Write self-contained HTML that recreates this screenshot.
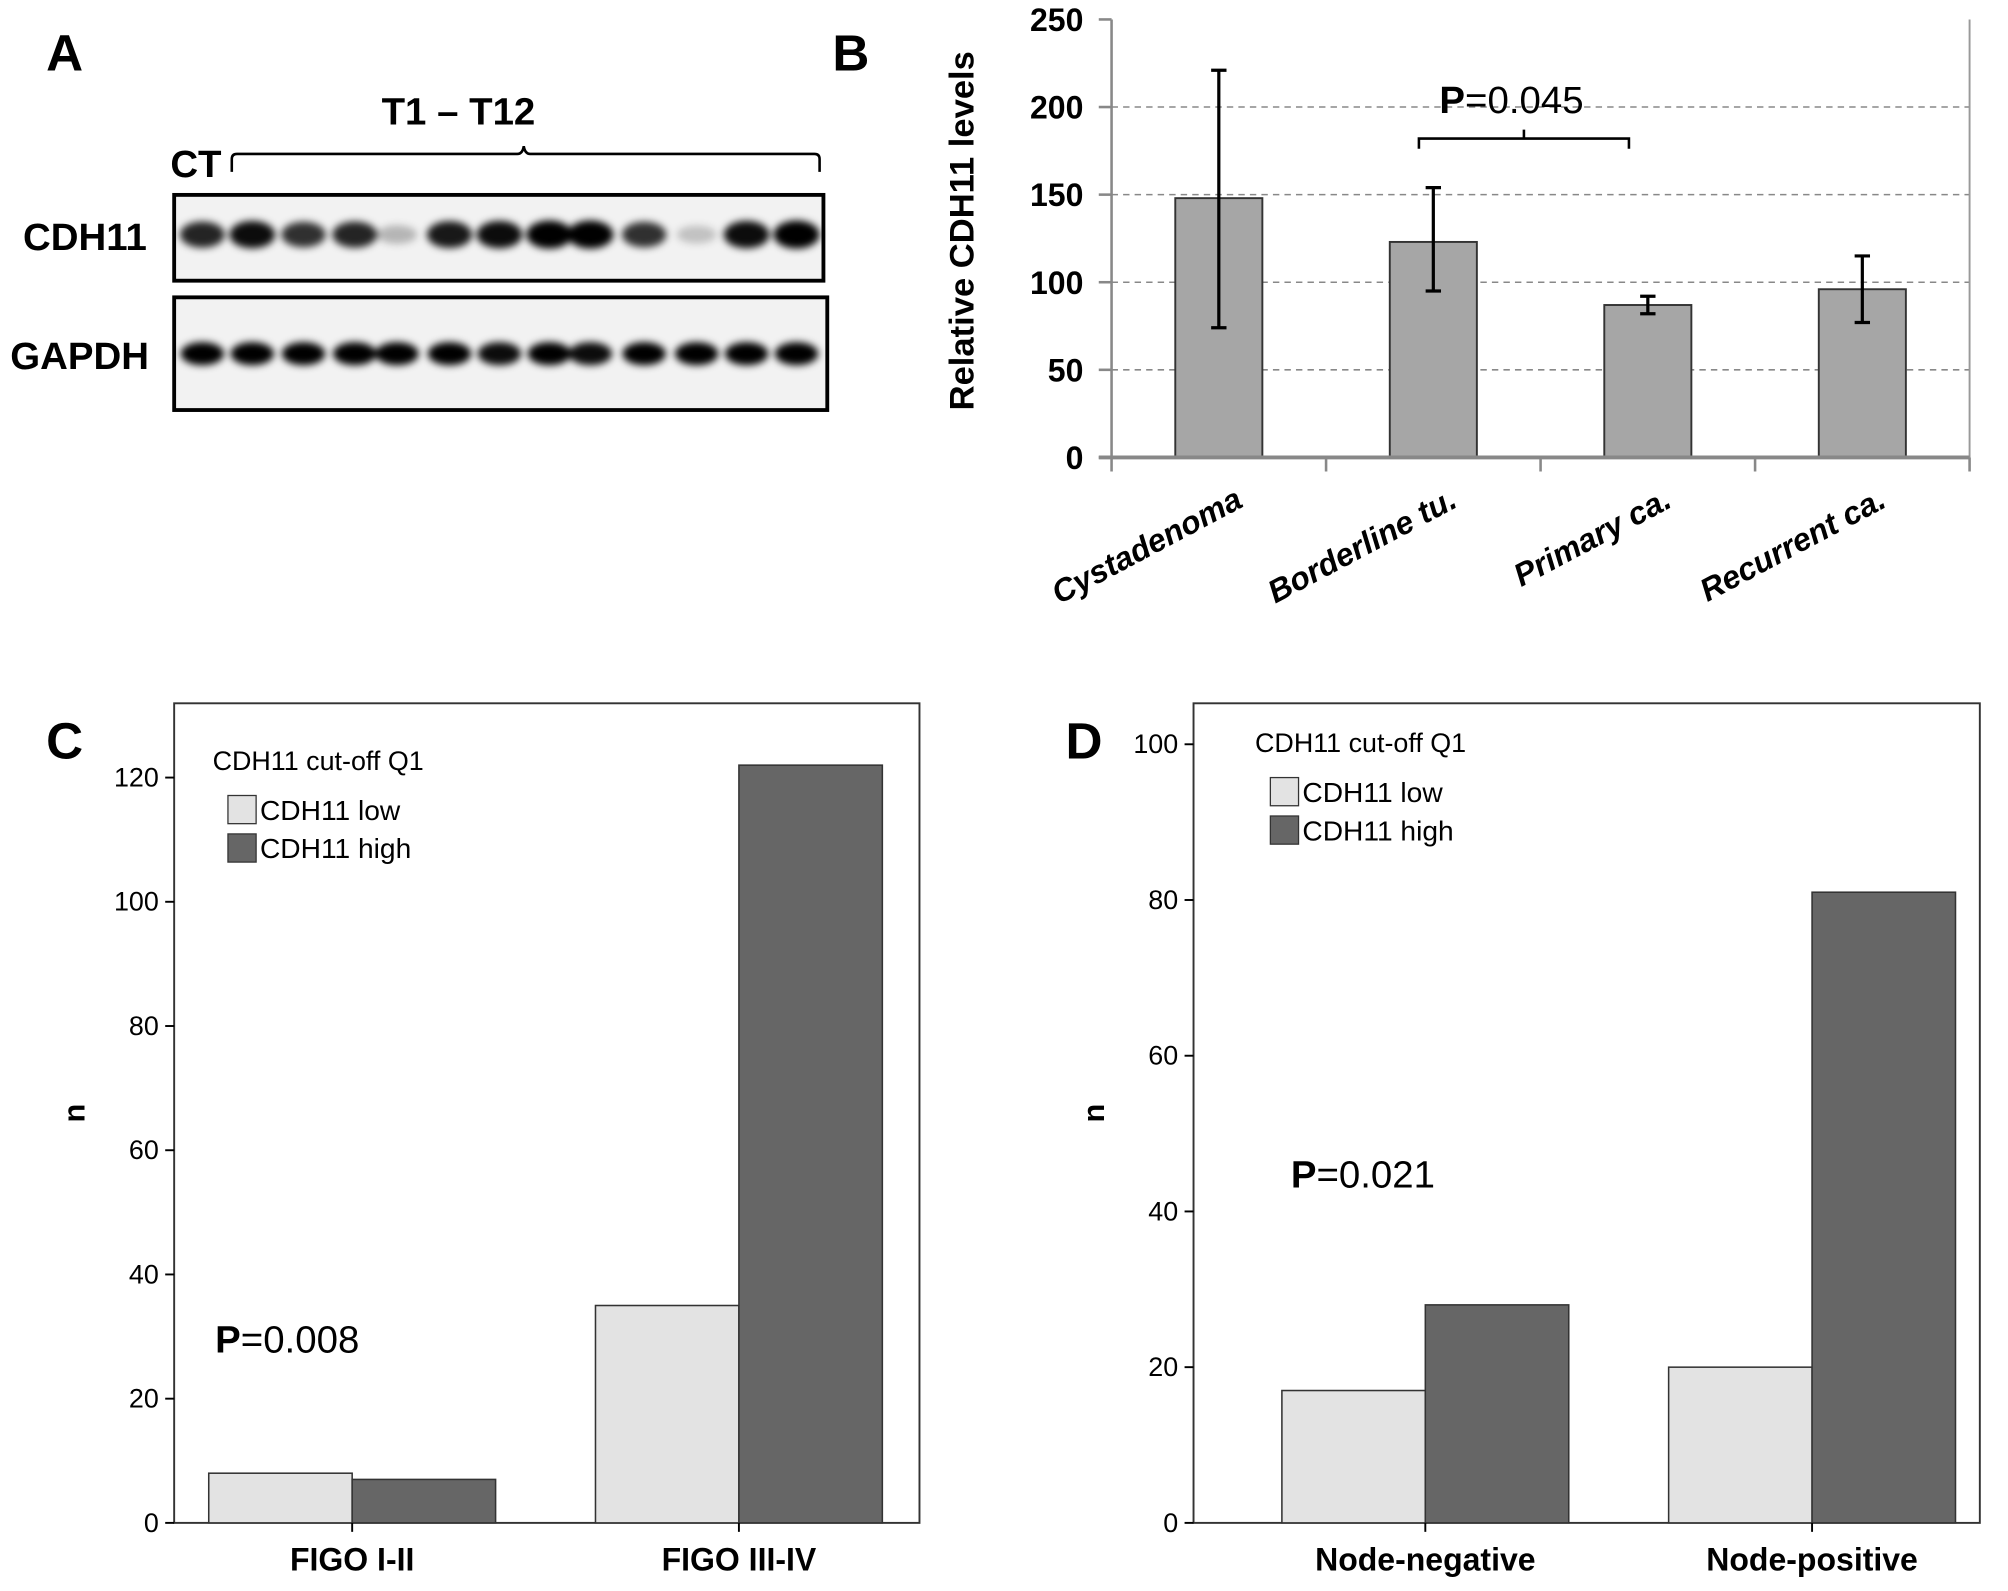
<!DOCTYPE html>
<html><head><meta charset="utf-8"><style>
html,body{margin:0;padding:0;background:#fff}
svg{display:block}
text{font-family:"Liberation Sans",Arial,sans-serif}
</style></head><body>
<svg id="fig" width="2008" height="1591" viewBox="0 0 1568 1242" xmlns="http://www.w3.org/2000/svg">
<defs>
<filter id="blur" x="-50%" y="-50%" width="200%" height="200%"><feGaussianBlur stdDeviation="3"/></filter>
</defs>
<g id="panelA">
<text x="36" y="55" font-size="40" font-weight="bold">A</text>
<text x="358" y="97" font-size="30" font-weight="bold" text-anchor="middle">T1 – T12</text>
<text x="133" y="138" font-size="30" font-weight="bold">CT</text>
<path d="M181,134 v-10 q0,-4 4,-4 H404 q4,0 5,-6 q1,6 5,6 H636 q4,0 4,4 v10" fill="none" stroke="#000" stroke-width="2"/>
<text x="18" y="195" font-size="30" font-weight="bold">CDH11</text>
<text x="8" y="288" font-size="30" font-weight="bold">GAPDH</text>
<rect x="136" y="152" width="507" height="67" fill="#f2f2f2" stroke="#000" stroke-width="3"/>
<rect x="136" y="232" width="510" height="88" fill="#f2f2f2" stroke="#000" stroke-width="3"/>
<g id="bands" filter="url(#blur)"></g>
</g>
<g id="panelB"></g>
<g id="panelC"></g>
<g id="panelD"></g>
</svg>
<script>
const laneX = [158,197,237,277,310,351,390,429,461,503,544,583,622];
const cdhIntensity = [0.85,0.95,0.8,0.85,0.25,0.9,0.95,1,1,0.8,0.2,0.95,1];
const gapIntensity = [1,1,1,1,1,1,0.95,1,0.95,1,1,1,1];
const bCats = ["Cystadenoma","Borderline tu.","Primary ca.","Recurrent ca."];
const bVals = [148,123,87,96];
const bHi = [221,154,92,115];
const bLo = [74,95,82,77];
const bTicks = [0,50,100,150,200,250];
const cCats = ["FIGO I-II","FIGO III-IV"];
const cLow = [8,35];
const cHigh = [7,122];
const cTicks = [0,20,40,60,80,100,120];
const dCats = ["Node-negative","Node-positive"];
const dLow = [17,20];
const dHigh = [28,81];
const dTicks = [0,20,40,60,80,100];

const NS="http://www.w3.org/2000/svg";
function mk(parent,tag,attrs,text){const e=document.createElementNS(NS,tag);for(const k in attrs)e.setAttribute(k,attrs[k]);if(text!==undefined)e.textContent=text;parent.appendChild(e);return e;}

const bands=document.getElementById('bands');
laneX.forEach((x,i)=>{
  const a=cdhIntensity[i];
  const e1=mk(bands,'ellipse',{cx:x,cy:183,rx:15+a*3,ry:6+a*5,fill:'#000','fill-opacity':a});
  
  
  const e2=mk(bands,'ellipse',{cx:x,cy:276,rx:17,ry:9,fill:'#000','fill-opacity':gapIntensity[i]});
  
  
});

(function(){
  const g=document.getElementById('panelB');
  const x0=868,x1=1538,y0=357,yTop=15,max=250;
  const ys=v=>y0-(v/max)*(y0-yTop);
  const band=(x1-x0)/bCats.length;
  const xc=i=>x0+band*(i+0.5);
  let t=mk(g,'text',{x:650,y:55,'font-size':40,'font-weight':'bold'},'B');
  
  
  bTicks.forEach(v=>{
    if(v>0&&v<250){const l=mk(g,'line',{x1:x0,x2:x1,y1:ys(v),y2:ys(v),stroke:'#888','stroke-dasharray':'5,4','stroke-width':1.2});
    
    }
    const tk=mk(g,'line',{x1:x0-10,x2:x0,y1:ys(v),y2:ys(v),stroke:'#888','stroke-width':2});
    
    
    const lb=mk(g,'text',{x:x0-22,y:ys(v)+9,'font-size':25,'font-weight':'bold','text-anchor':'end'},String(v));
    
    
  });
  const ax=mk(g,'line',{x1:x0,x2:x0,y1:yTop,y2:y0,stroke:'#888','stroke-width':2});
  
  
  const rx=mk(g,'line',{x1:x1,x2:x1,y1:yTop,y2:y0,stroke:'#999','stroke-width':1.5});
  
  
  const yt=mk(g,'text',{x:0,y:0,'font-size':27,'font-weight':'bold','text-anchor':'middle',transform:'translate(760,180) rotate(-90)'},'Relative CDH11 levels');
  
  
  bCats.forEach((c,i)=>{
    const bw=68;
    const r=mk(g,'rect',{x:xc(i)-bw/2,y:ys(bVals[i]),width:bw,height:y0-ys(bVals[i]),fill:'#a6a6a6',stroke:'#333','stroke-width':1.5});
    
    
    const eb=mk(g,'path',{d:`M${xc(i)},${ys(bHi[i])}V${ys(bLo[i])}M${xc(i)-6},${ys(bHi[i])}h12M${xc(i)-6},${ys(bLo[i])}h12`,stroke:'#000','stroke-width':2.5,fill:'none'});
    
    
    const lb=mk(g,'text',{x:0,y:0,'font-size':25,'font-weight':'bold','font-style':'italic','text-anchor':'end',transform:`translate(${xc(i)+20},${395}) rotate(-28)`},c);
    
    
  });
  for(let i=0;i<=bCats.length;i++){
    const tk=mk(g,'line',{x1:x0+band*i,x2:x0+band*i,y1:y0,y2:y0+11,stroke:'#888','stroke-width':2});
    
    
  }
  const xa=mk(g,'line',{x1:x0-10,x2:x1,y1:y0,y2:y0,stroke:'#888','stroke-width':3});
  
  
  const br=mk(g,'path',{d:'M1108,116 v-8 H1272 v8 M1190,108 v-7',stroke:'#000','stroke-width':2,fill:'none'});
  
  
  const p=mk(g,'text',{x:1124,y:88,'font-size':30},'');
  
  
  mk(p,'tspan',{'font-weight':'bold'},'P');mk(p,'tspan',{},'=0.045');
})();

function groupChart(id,letter,lx,ly,x0,x1,yTop,max,cats,low,high,ticks,barL,firstC,step,pos,pText,pPos,legY){
  const g=document.getElementById(id);
  const y0=1189;
  const ys=v=>y0-(v/max)*(y0-yTop);
  const fr=mk(g,'rect',{x:x0,y:549,width:x1-x0,height:y0-549,fill:'#fff',stroke:'#333','stroke-width':1.5});
  
  
  const L=mk(g,'text',{x:lx,y:ly,'font-size':40,'font-weight':'bold'},letter);
  
  
  ticks.forEach(v=>{
    const tk=mk(g,'line',{x1:x0-7,x2:x0,y1:ys(v),y2:ys(v),stroke:'#000','stroke-width':1.5});
    
    
    const lb=mk(g,'text',{x:x0-12,y:ys(v)+7,'font-size':21,'text-anchor':'end'},String(v));
    
    
  });
  const yt=mk(g,'text',{x:0,y:0,'font-size':24,'font-weight':'bold','text-anchor':'middle',transform:`translate(${x0-70},869) rotate(-90)`},'n');
  
  
  cats.forEach((c,i)=>{
    const xc=firstC+step*i;
    const r1=mk(g,'rect',{x:xc-barL,y:ys(low[i]),width:barL,height:y0-ys(low[i]),fill:'#e3e3e3',stroke:'#333','stroke-width':1.2});
    
    
    const r2=mk(g,'rect',{x:xc,y:ys(high[i]),width:barL,height:y0-ys(high[i]),fill:'#666',stroke:'#333','stroke-width':1.2});
    
    
    const tk=mk(g,'line',{x1:xc,x2:xc,y1:y0,y2:y0+7,stroke:'#000','stroke-width':1.5});
    
    
    const lb=mk(g,'text',{x:xc,y:1226,'font-size':25,'font-weight':'bold','text-anchor':'middle'},c);
    
    
  });
  const lt=mk(g,'text',{x:pos,y:legY,'font-size':21},'CDH11 cut-off Q1');
  
  
  [['CDH11 low','#e3e3e3'],['CDH11 high','#666']].forEach((e,k)=>{
    const yy=legY+20+k*30;
    const s=mk(g,'rect',{x:pos+12,y:yy,width:22,height:22,fill:e[1],stroke:'#333','stroke-width':1});
    
    
    const tx=mk(g,'text',{x:pos+37,y:yy+19,'font-size':22},e[0]);
    
    
  });
  const p=mk(g,'text',{x:pPos[0],y:pPos[1],'font-size':30},'');
  
  
  mk(p,'tspan',{'font-weight':'bold'},'P');mk(p,'tspan',{},pText);
}
groupChart('panelC','C',36,592,136,718,607,120,cCats,cLow,cHigh,cTicks,112,275,302,166,'=0.008',[168,1056],601);
groupChart('panelD','D',832,592,932,1546,581,100,dCats,dLow,dHigh,dTicks,112,1113,302,980,'=0.021',[1008,927],587);
</script>
</body></html>
